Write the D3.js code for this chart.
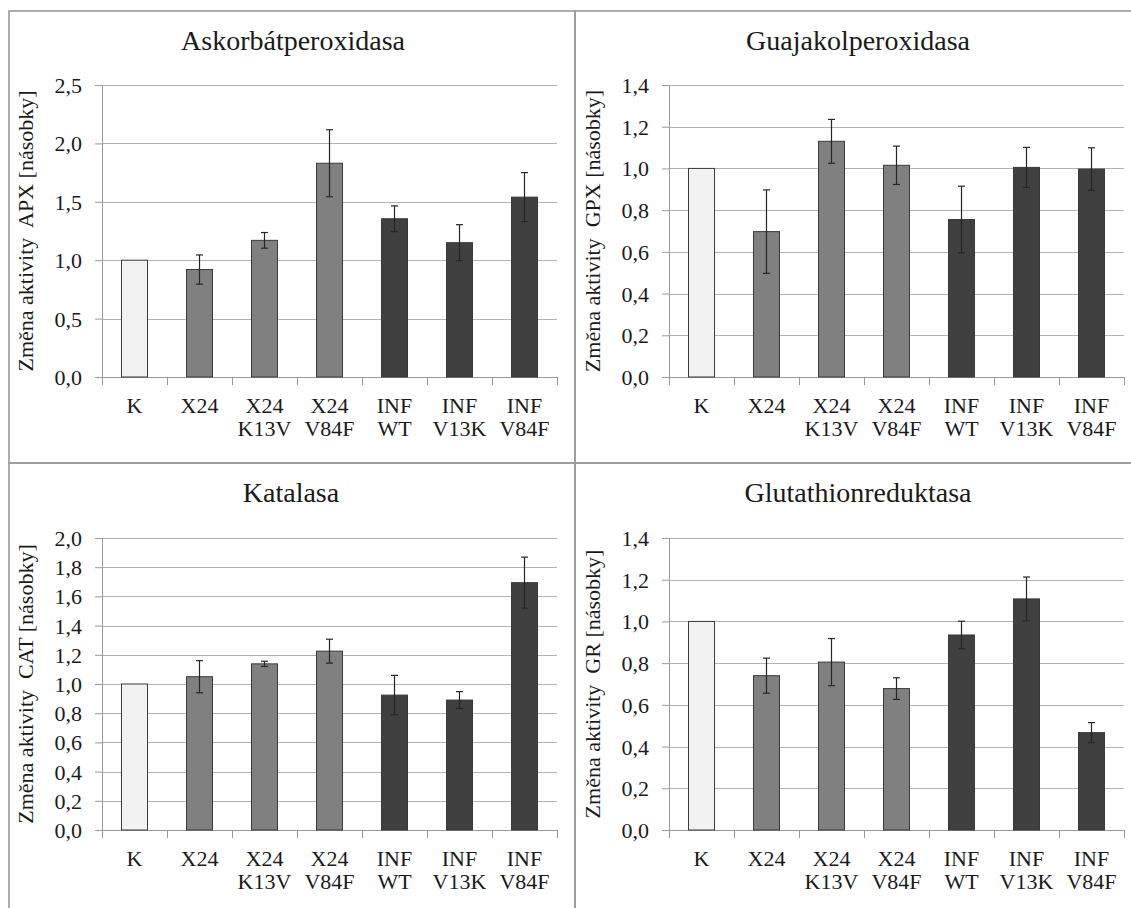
<!DOCTYPE html>
<html>
<head>
<meta charset="utf-8">
<script src="https://cdn.jsdelivr.net/npm/d3@7"></script>
</head>
<body style="margin:0">
<svg id="chart" width="1131" height="908"></svg>
<script>
// ---------- data ----------
const categories = [["K"], ["X24"], ["X24", "K13V"], ["X24", "V84F"], ["INF", "WT"], ["INF", "V13K"], ["INF", "V84F"]];
const groups = ["K", "X24", "X24", "X24", "INF", "INF", "INF"];

const apxValues = [1.00, 0.92, 1.17, 1.83, 1.355, 1.15, 1.54];
const apxErrors = [0, 0.125, 0.067, 0.287, 0.11, 0.154, 0.21];

const gpxValues = [1.00, 0.697, 1.13, 1.015, 0.755, 1.005, 0.997];
const gpxErrors = [0, 0.20, 0.105, 0.092, 0.16, 0.096, 0.102];

const catValues = [1.00, 1.05, 1.138, 1.225, 0.924, 0.89, 1.694];
const catErrors = [0, 0.11, 0.018, 0.082, 0.135, 0.058, 0.175];

const grValues = [1.00, 0.74, 0.805, 0.678, 0.935, 1.108, 0.467];
const grErrors = [0, 0.084, 0.113, 0.052, 0.066, 0.105, 0.048];

const apxTicks = [0, 0.5, 1.0, 1.5, 2.0, 2.5];
const gpxTicks = [0, 0.2, 0.4, 0.6, 0.8, 1.0, 1.2, 1.4];
const catTicks = [0, 0.2, 0.4, 0.6, 0.8, 1.0, 1.2, 1.4, 1.6, 1.8, 2.0];
const grTicks = [0, 0.2, 0.4, 0.6, 0.8, 1.0, 1.2, 1.4];

const titles = ["Askorbátperoxidasa", "Guajakolperoxidasa", "Katalasa", "Glutathionreduktasa"];
const yTitles = [
  "Změna aktivity\u00A0 APX [násobky]",
  "Změna aktivity\u00A0 GPX [násobky]",
  "Změna aktivity\u00A0 CAT [násobky]",
  "Změna aktivity\u00A0 GR [násobky]"
];

// ---------- layout / style ----------
const FONT = "'Liberation Serif', monospace";
const TEXT_COLOR = "#1a1a1a";
const groupColor = { "K": "#f2f2f2", "X24": "#808080", "INF": "#404040" };
const panels = [
  { title: titles[0], yTitle: yTitles[0], values: apxValues, errors: apxErrors, ticks: apxTicks,
    box: { x0: 9, x1: 575, y0: 11, y1: 463 }, plot: { l: 102, r: 557, t: 85, b: 377 }, titleX: 293, titleY: 50, yTitleX: 33 },
  { title: titles[1], yTitle: yTitles[1], values: gpxValues, errors: gpxErrors, ticks: gpxTicks,
    box: { x0: 575, x1: 1145, y0: 11, y1: 463 }, plot: { l: 669, r: 1124, t: 85, b: 377 }, titleX: 858, titleY: 50, yTitleX: 600 },
  { title: titles[2], yTitle: yTitles[2], values: catValues, errors: catErrors, ticks: catTicks,
    box: { x0: 9, x1: 575, y0: 463, y1: 920 }, plot: { l: 102, r: 557, t: 538, b: 830 }, titleX: 291, titleY: 502, yTitleX: 33 },
  { title: titles[3], yTitle: yTitles[3], values: grValues, errors: grErrors, ticks: grTicks,
    box: { x0: 575, x1: 1145, y0: 463, y1: 920 }, plot: { l: 669, r: 1124, t: 538, b: 830 }, titleX: 858, titleY: 502, yTitleX: 600 }
];

const svg = d3.select("#chart");
svg.append("rect").attr("width", 1131).attr("height", 908).attr("fill", "#fff");

const locale = d3.formatLocale({ decimal: ",", thousands: " ", grouping: [3], currency: ["", ""] });
const fmt = locale.format(".1f");

panels.forEach(p => {
  const g = svg.append("g");
  const n = categories.length;

  // panel border
  g.append("rect")
    .attr("x", p.box.x0).attr("y", p.box.y0)
    .attr("width", p.box.x1 - p.box.x0).attr("height", p.box.y1 - p.box.y0)
    .attr("fill", "none").attr("stroke", "#9a9a9a").attr("stroke-width", 1.6);

  const y = d3.scaleLinear().domain([p.ticks[0], p.ticks[p.ticks.length - 1]]).range([p.plot.b, p.plot.t]);
  const x = d3.scaleBand().domain(d3.range(n)).range([p.plot.l, p.plot.r]).paddingInner(0.6).paddingOuter(0.3);
  const xb = d3.scaleLinear().domain([0, n]).range([p.plot.l, p.plot.r]);

  // gridlines
  g.append("g").selectAll("line").data(p.ticks.slice(1)).join("line")
    .attr("x1", p.plot.l).attr("x2", p.plot.r)
    .attr("y1", d => Math.round(y(d)) + 0.5).attr("y2", d => Math.round(y(d)) + 0.5)
    .attr("stroke", "#b3b3b3").attr("stroke-width", 1);

  // y axis ticks (labels drawn separately)
  const yAxis = g.append("g").attr("transform", `translate(${p.plot.l},0)`)
    .call(d3.axisLeft(y).tickValues(p.ticks).tickFormat("").tickSize(7));
  yAxis.select(".domain").remove();
  yAxis.selectAll(".tick line").attr("stroke", "#9a9a9a");
  g.append("line")
    .attr("x1", p.plot.l + 0.5).attr("x2", p.plot.l + 0.5)
    .attr("y1", p.plot.t).attr("y2", p.plot.b)
    .attr("stroke", "#9a9a9a").attr("stroke-width", 1);

  // y tick labels
  g.append("g").selectAll("text").data(p.ticks).join("text")
    .attr("x", p.plot.l - 20).attr("y", d => y(d) + 8)
    .attr("text-anchor", "end").attr("font-size", 22).attr("fill", TEXT_COLOR)
    .style("font-family", FONT)
    .text(d => fmt(d));

  // x axis (boundary ticks)
  const xAxis = g.append("g").attr("transform", `translate(0,${p.plot.b})`)
    .call(d3.axisBottom(xb).tickValues(d3.range(n + 1)).tickFormat("").tickSize(8).tickSizeOuter(0));
  xAxis.select(".domain").attr("stroke", "#9a9a9a").attr("d", `M${p.plot.l},0.5H${p.plot.r}`);
  xAxis.selectAll(".tick line").attr("stroke", "#9a9a9a");

  // bars
  g.append("g").selectAll("rect").data(p.values).join("rect")
    .attr("x", (d, i) => x(i)).attr("width", x.bandwidth())
    .attr("y", d => y(d)).attr("height", d => y(0) - y(d))
    .attr("fill", (d, i) => groupColor[groups[i]])
    .attr("stroke", "#3a3a3a").attr("stroke-width", 1);

  // error bars
  const eg = g.append("g").attr("stroke", "#262626").attr("stroke-width", 1.2);
  p.values.forEach((v, i) => {
    const e = p.errors[i];
    if (!e) return;
    const cx = x(i) + x.bandwidth() / 2;
    eg.append("line").attr("x1", cx).attr("x2", cx).attr("y1", y(v + e)).attr("y2", y(v - e));
    eg.append("line").attr("x1", cx - 3.5).attr("x2", cx + 3.5).attr("y1", y(v + e)).attr("y2", y(v + e));
    eg.append("line").attr("x1", cx - 3.5).attr("x2", cx + 3.5).attr("y1", y(v - e)).attr("y2", y(v - e));
  });

  // category labels
  const lg = g.append("g");
  categories.forEach((d, i) => {
    d.forEach((line, k) => {
      lg.append("text")
        .attr("text-anchor", "middle").attr("fill", TEXT_COLOR)
        .attr("font-size", 22)
        .style("font-family", FONT)
        .attr("x", x(i) + x.bandwidth() / 2)
        .attr("y", p.plot.b + 36 + k * 23)
        .text(line);
    });
  });

  // title
  g.append("text").attr("x", p.titleX).attr("y", p.titleY)
    .attr("font-size", 28)
    .style("font-family", FONT)
    .attr("text-anchor", "middle").attr("fill", TEXT_COLOR).text(p.title);

  // y title
  g.append("text")
    .attr("transform", `translate(${p.yTitleX},${(p.plot.t + p.plot.b) / 2}) rotate(-90)`)
    .attr("font-size", 22)
    .style("font-family", FONT)
    .attr("text-anchor", "middle").attr("fill", TEXT_COLOR).text(p.yTitle);
});
</script>
</body>
</html>
